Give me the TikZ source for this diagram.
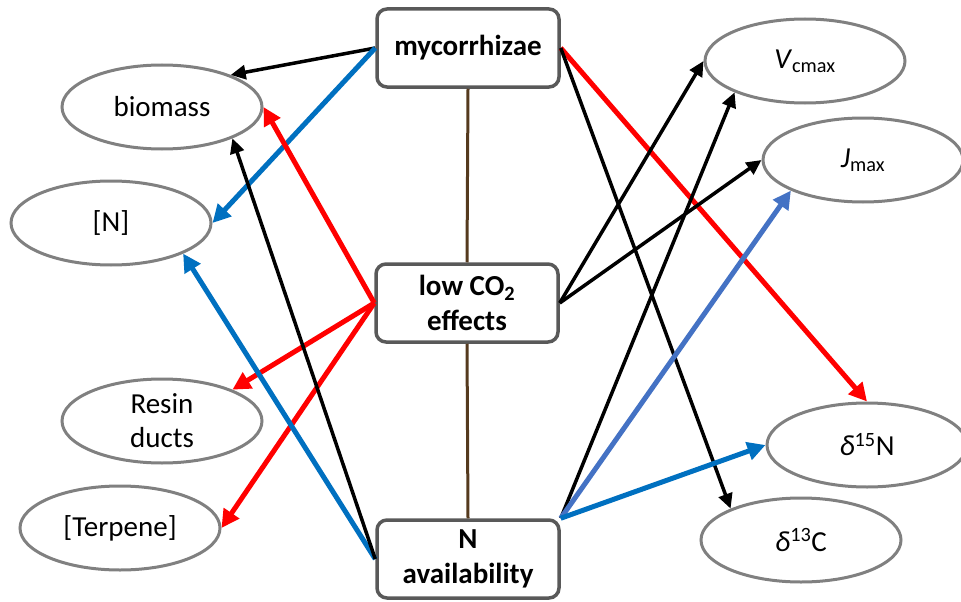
\documentclass[tikz,border=0pt]{standalone}
\usepackage{fontspec}
\setmainfont{Carlito}
\usetikzlibrary{arrows.meta,shapes.geometric}
\definecolor{ellgray}{RGB}{128,128,128}
\definecolor{boxgray}{RGB}{89,89,89}
\definecolor{myred}{RGB}{255,0,0}
\definecolor{myblue}{RGB}{0,112,192}
\definecolor{lblue}{RGB}{68,114,196}
\definecolor{brownline}{RGB}{85,58,30}
\begin{document}
\begin{tikzpicture}[x=1pt,y=-1pt,
 every node/.style={font=\fontsize{29}{34}\selectfont, align=center, inner sep=0pt},
 ell/.style={ellipse, draw=ellgray, line width=3pt, minimum width=200pt, minimum height=84pt},
 box/.style={rectangle, rounded corners=10pt, draw=boxgray, line width=3.5pt, minimum width=182pt, minimum height=78pt, font=\fontsize{29}{35}\selectfont\bfseries},
 blk/.style={draw=black, line width=3.5pt, -{Triangle[length=15pt,width=14pt]}},
 redarr/.style={draw=myred, line width=5pt, -{Triangle[length=18pt,width=18pt]}},
 bluearr/.style={draw=myblue, line width=5pt, -{Triangle[length=18pt,width=18pt]}},
 lbluearr/.style={draw=lblue, line width=5pt, -{Triangle[length=18pt,width=18pt]}},
 link/.style={draw=brownline, line width=3pt}
]
\useasboundingbox (0,0) rectangle (961,602);
\node[box] (myc) at (468,48) {mycorrhizae};
\node[box] (low) at (467,303) {low CO\textsubscript{2}\\effects};
\node[box] (nav) at (468,559) {N\\availability};
\node[ell] (bio) at (162,107) {biomass};
\node[ell] (n) at (111,223) {[N]};
\node[ell] (resin) at (162,421) {Resin\\ducts};
\node[ell] (terp) at (120,528) {[Terpene]};
\node[ell] (vc) at (805,61) {\textit{V}\textsubscript{cmax}};
\node[ell] (jm) at (863,160) {\textit{J}\textsubscript{max}};
\node[ell] (d15) at (867,445) {\textit{δ}\textsuperscript{15}N};
\node[ell] (d13) at (801,540) {\textit{δ}\textsuperscript{13}C};
\draw[link] (myc.south) -- (low.north);
\draw[link] (low.south) -- (nav.north);
\draw[blk] (myc.west) -- (bio.25);
\draw[bluearr] (myc.west) -- (n.0);
\draw[redarr] (myc.east) -- (d15.90);
\draw[blk] (myc.east) -- (d13.156);
\draw[redarr] (low.west) -- (bio.0);
\draw[redarr] (low.west) -- (resin.24);
\draw[redarr] (low.west) -- (terp.0);
\draw[blk] (low.east) -- (vc.180);
\draw[blk] (low.east) -- (jm.180);
\draw[bluearr] (nav.west) -- (n.-23);
\draw[blk] (nav.west) -- (bio.-24);
\draw[blk] (nav.north east) -- (vc.204);
\draw[lbluearr] (nav.north east) -- (jm.203);
\draw[bluearr] (nav.north east) -- (d15.180);
\end{tikzpicture}
\end{document}
